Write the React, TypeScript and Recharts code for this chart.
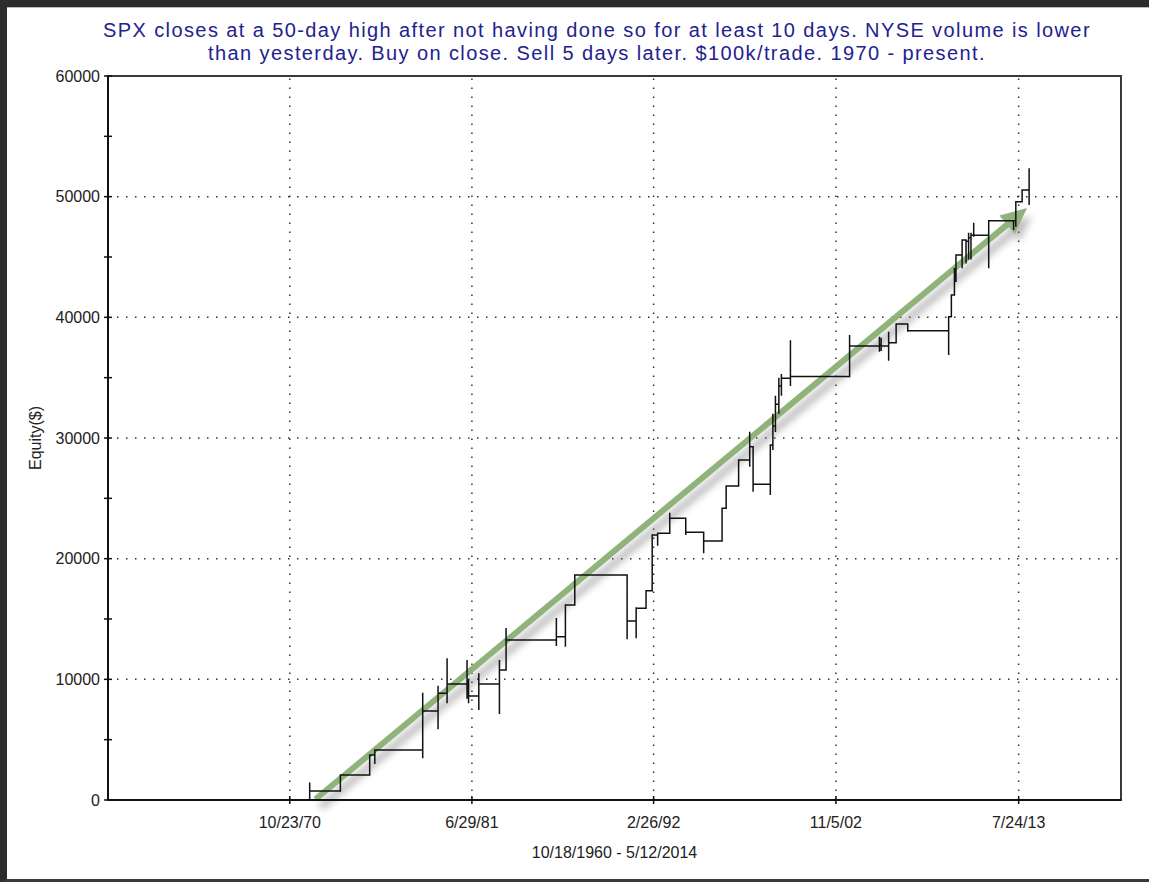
import React from "react";
import {
  ComposedChart,
  Line,
  XAxis,
  YAxis,
  ReferenceLine,
  ReferenceArea,
  Label,
} from "recharts";

const FONT = "'Liberation Sans', Arial, sans-serif";

const titleLines = [
  "SPX closes at a 50-day high after not having done so for at least 10 days. NYSE volume is lower",
  "than yesterday. Buy on close. Sell 5 days later. $100k/trade. 1970 - present.",
];

const tickLabels = ["10/23/70", "6/29/81", "2/26/92", "11/5/02", "7/24/13"];
const rangeLabel = "10/18/1960 - 5/12/2014";
const yLabel = "Equity($)";

const yTicks = [0, 5000, 10000, 15000, 20000, 25000, 30000, 35000, 40000, 45000, 50000, 55000, 60000];
const yGrid = [10000, 20000, 30000, 40000, 50000];
const xDomain = [1960.15, 2019.57];

// one entry per trade: date (decimal year), intra-trade low / high, equity after the trade
const tradeYears = [
  1971.98, 1973.78, 1975.5, 1975.8, 1978.61, 1979.51, 1980.04, 1981.21, 1981.3, 1981.9,
  1983.11, 1983.5, 1986.45, 1986.98, 1987.53, 1990.6, 1991.13, 1991.71, 1992.07, 1992.39,
  1993.1, 1994.04, 1995.09, 1996.17, 1996.41, 1997.14, 1997.79, 1997.99, 1999.0, 1999.15,
  1999.3, 1999.5, 1999.65, 2000.18, 2003.65, 2005.4, 2005.5, 2005.94, 2006.38, 2007.06,
  2009.46, 2009.62, 2009.8, 2009.89, 2010.25, 2010.48, 2010.63, 2010.77, 2010.93, 2011.81,
  2013.27, 2013.4, 2013.77, 2014.18,
];
const tradeLows = [
  0, 750, 2070, 2980, 3450, 5860, 8010, 8400, 8010, 7460,
  7130, 10770, 12760, 12700, 16160, 13320, 13400, 15900, 17350, 21080,
  22100, 21960, 20440, 21460, 24170, 26020, 27620, 25550, 25280, 29000,
  30500, 32000, 33500, 34300, 35100, 37150, 37200, 36400, 37900, 38800,
  36880, 40050, 41850, 43000, 44060, 44470, 44800, 44800, 46680, 44060,
  47240, 47500, 49580, 49300,
];
const tradeHighs = [
  1450, 2070, 3730, 4150, 8890, 9475, 11740, 11600, 10000, 10500,
  11600, 14250, 15080, 16160, 18650, 18650, 15970, 17350, 21960, 22100,
  23810, 23340, 22180, 24170, 26020, 28180, 30520, 29280, 29420, 32000,
  33500, 35000, 35300, 38100, 38530, 38390, 38300, 38800, 39500, 39450,
  40050, 41850, 44090, 45160, 46400, 46400, 47000, 47000, 47830, 48000,
  48000, 49580, 50550, 52350,
];
const tradeEquity = [
  750, 2070, 3730, 4150, 7375, 8840, 9613, 9300, 8620, 9613,
  10770, 13260, 13535, 16160, 18650, 14830, 15900, 17350, 21960, 22100,
  23340, 22180, 21460, 24170, 26020, 28180, 29280, 26160, 29420, 31000,
  32800, 34300, 34950, 35100, 37620, 37700, 37620, 37900, 39450, 38890,
  40050, 41850, 43000, 45160, 46400, 46300, 46600, 46800, 46800, 48000,
  48000, 49580, 50550, 50600,
];

// green trend arrow (start / end in data units)
const trendStart = [1972.32, 60];
const trendEnd = [2014.06, 49060];

function toYear(s: string) {
  const [m, d, y] = s.split("/").map(Number);
  const full = y < 100 ? (y < 50 ? 2000 + y : 1900 + y) : y;
  return full + ((m - 1) * 30.44 + d) / 365.25;
}
const tickYears = tickLabels.map(toYear);

// step path: flat until the trade date, then the low/high swing, then the new level
const equityPath: { x: number; equity: number }[] = [];
let level = 0;
tradeYears.forEach((x, i) => {
  equityPath.push({ x, equity: level });
  equityPath.push({ x, equity: tradeLows[i] });
  equityPath.push({ x, equity: tradeHighs[i] });
  equityPath.push({ x, equity: tradeEquity[i] });
  level = tradeEquity[i];
});

const YTick = (props: any) => {
  const { x, y, payload } = props;
  const axisX = x + 8;
  return (
    <g>
      <line x1={axisX - 4} x2={axisX + 4} y1={y} y2={y} stroke="#111" strokeWidth={1.5} />
      {payload.value % 10000 === 0 && (
        <text x={x} y={y} dy="0.36em" textAnchor="end" fontSize={16} fill="#222" fontFamily={FONT}>
          {payload.value}
        </text>
      )}
    </g>
  );
};

const XTick = (props: any) => {
  const { x, y, payload } = props;
  const axisY = y - 8;
  const i = tickYears.findIndex((t) => Math.abs(t - payload.value) < 1e-6);
  return (
    <g>
      <line x1={x} x2={x} y1={axisY - 4} y2={axisY + 4} stroke="#111" strokeWidth={1.5} />
      <text x={x} y={axisY + 28} textAnchor="middle" fontSize={16} fill="#222" fontFamily={FONT}>
        {tickLabels[i]}
      </text>
    </g>
  );
};

const TrendArrow = (props: any) => {
  const { x1, y1, x2, y2 } = props;
  if (x1 == null) return <g />;
  const ang = Math.atan2(y2 - y1, x2 - x1);
  const c = Math.cos(ang);
  const s = Math.sin(ang);
  const headLen = 26;
  const half = 12;
  const bx = x2 - headLen * c;
  const by = y2 - headLen * s;
  const head = `${x2},${y2} ${bx - s * half},${by + c * half} ${bx + s * half},${by - c * half}`;
  return (
    <g>
      <defs>
        <filter id="arrowBlur" x="-10%" y="-10%" width="120%" height="120%">
          <feGaussianBlur stdDeviation="3.5" />
        </filter>
      </defs>
      <g transform="translate(5,8)" filter="url(#arrowBlur)" opacity={0.45}>
        <line x1={x1} y1={y1} x2={bx} y2={by} stroke="#777" strokeWidth={8} />
        <polygon points={head} fill="#777" />
      </g>
      <line x1={x1} y1={y1} x2={bx + c * 2} y2={by + s * 2} stroke="#90b37c" strokeWidth={6} />
      <polygon points={head} fill="#90b37c" />
    </g>
  );
};

export default function App() {
  return (
    <div
      style={{
        position: "absolute",
        left: 0,
        top: 0,
        width: 1149,
        height: 882,
        background: "#fff",
        overflow: "hidden",
        fontFamily: FONT,
      }}
    >
      <div
        style={{
          position: "absolute",
          left: 0,
          top: 0,
          width: 1149,
          height: 882,
          boxSizing: "border-box",
          borderTop: "7px solid #2c2c2c",
          borderLeft: "7px solid #2c2c2c",
          borderBottom: "3px solid #3a3a3a",
        }}
      />
      <div style={{ position: "absolute", left: 7, top: 7, width: 1142, height: 1, background: "#bbb" }} />
      {titleLines.map((t, i) => (
        <div
          key={i}
          style={{
            position: "absolute",
            left: 0,
            width: 1194,
            top: 18.7 + i * 23.4,
            textAlign: "center",
            fontSize: 20,
            lineHeight: "23.4px",
            letterSpacing: 1.4,
            color: "#22228f",
            whiteSpace: "nowrap",
          }}
        >
          {t}
        </div>
      ))}
      <div style={{ position: "absolute", left: 0, top: 0 }}>
        <ComposedChart
          width={1149}
          height={882}
          data={equityPath}
          margin={{ top: 76, right: 28, bottom: 22, left: 8 }}
        >
          <XAxis
            dataKey="x"
            type="number"
            domain={xDomain}
            allowDataOverflow
            ticks={tickYears}
            interval={0}
            height={60}
            tickSize={4}
            tickMargin={4}
            tickLine={false}
            axisLine={{ stroke: "#111", strokeWidth: 2 }}
            tick={<XTick />}
          >
            <Label
              content={(p: any) => {
                const vb = p.viewBox || { x: 108, y: 800, width: 1013, height: 60 };
                return (
                  <text
                    x={vb.x + vb.width / 2}
                    y={vb.y + 58}
                    textAnchor="middle"
                    fontSize={16}
                    fill="#222"
                    fontFamily={FONT}
                  >
                    {rangeLabel}
                  </text>
                );
              }}
            />
          </XAxis>
          <YAxis
            type="number"
            domain={[0, 60000]}
            ticks={yTicks}
            interval={0}
            width={100}
            tickSize={4}
            tickMargin={4}
            tickLine={false}
            axisLine={{ stroke: "#111", strokeWidth: 2 }}
            tick={<YTick />}
          >
            <Label
              content={(p: any) => {
                const vb = p.viewBox || { x: 8, y: 76, width: 100, height: 724 };
                const cx = vb.x + 33;
                const cy = vb.y + vb.height / 2;
                return (
                  <text
                    x={cx}
                    y={cy}
                    transform={`rotate(-90, ${cx}, ${cy})`}
                    textAnchor="middle"
                    fontSize={16}
                    fill="#222"
                    fontFamily={FONT}
                  >
                    {yLabel}
                  </text>
                );
              }}
            />
          </YAxis>
          {yGrid.map((v) => (
            <ReferenceLine key={`gy${v}`} y={v} stroke="#333" strokeWidth={1.5} strokeDasharray="1.5 7.5" />
          ))}
          {tickYears.map((v) => (
            <ReferenceLine key={`gx${v}`} x={v} stroke="#333" strokeWidth={1.5} strokeDasharray="1.5 7.5" />
          ))}
          <ReferenceArea
            x1={xDomain[0]}
            x2={xDomain[1]}
            y1={0}
            y2={60000}
            fill="none"
            stroke="#3a3a3a"
            strokeWidth={2}
            ifOverflow="visible"
          />
          <ReferenceLine
            segment={[
              { x: trendStart[0], y: trendStart[1] },
              { x: trendEnd[0], y: trendEnd[1] },
            ]}
            ifOverflow="visible"
            shape={<TrendArrow />}
          />
          <Line
            dataKey="equity"
            type="linear"
            stroke="#111"
            strokeWidth={1.5}
            dot={false}
            activeDot={false}
            isAnimationActive={false}
          />
        </ComposedChart>
      </div>
    </div>
  );
}
